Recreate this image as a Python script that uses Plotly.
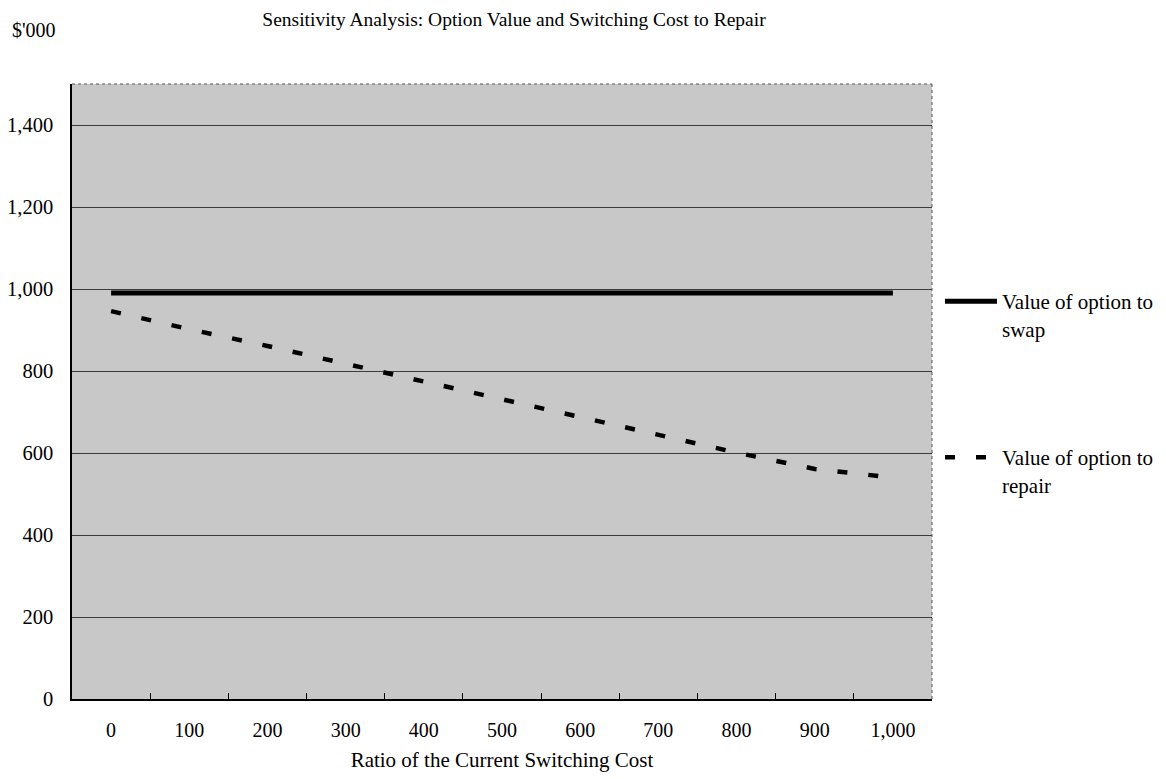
import plotly.graph_objects as go

# ---- data ----
ratio = [0, 100, 200, 300, 400, 500, 600, 700, 800, 900, 1000]
ratio_labels = [f"{r:,}" for r in ratio]
swap_value = [990, 990, 990, 990, 990, 990, 990, 990, 990, 990, 990]
repair_value = [946, 902, 861, 818, 774, 732, 688, 644, 601, 561, 540]
y_ticks = [0, 200, 400, 600, 800, 1000, 1200, 1400]

FONT = "Liberation Serif, Times New Roman, serif"

fig = go.Figure()
fig.add_trace(go.Scatter(
    x=ratio_labels, y=swap_value, mode="lines",
    name="Value of option to<br>swap",
    line=dict(color="black", width=5),
    legend="legend",
))
fig.add_trace(go.Scatter(
    x=ratio_labels, y=repair_value, mode="lines",
    name="Value of option to<br>repair",
    line=dict(color="black", width=4.5, dash="10px,21px"),
    legend="legend2",
))

W, H = 1166, 779
L, R, T, B = 72, 932, 84, 699

legend_common = dict(
    font=dict(family=FONT, size=21, color="black"),
    bgcolor="rgba(0,0,0,0)", borderwidth=0,
    xanchor="left", yanchor="top",
    itemwidth=52, valign="top",
)

fig.update_layout(
    width=W, height=H,
    margin=dict(l=L, r=W - R, t=T, b=H - B, autoexpand=False),
    paper_bgcolor="white",
    plot_bgcolor="#c8c8c8",
    font=dict(family=FONT, size=20, color="black"),
    title=dict(
        text="Sensitivity Analysis: Option Value and Switching Cost to Repair",
        font=dict(family=FONT, size=19.5, color="black"),
        xref="container", x=514 / W, xanchor="center",
        yref="container", y=1 - 19 / H, yanchor="middle",
    ),
    xaxis=dict(
        type="category",
        range=[-0.5, len(ratio_labels) - 0.5],
        tickmode="array", tickvals=ratio_labels, ticktext=ratio_labels,
        tickson="boundaries",
        ticks="inside", ticklen=6, tickwidth=1, tickcolor="black",
        showgrid=False,
        showline=True, linecolor="black", linewidth=1.5,
        tickfont=dict(family=FONT, size=20, color="black"),
        ticklabelstandoff=12,
        title=dict(text="Ratio of the Current Switching Cost",
                   font=dict(family=FONT, size=21, color="black"),
                   standoff=13),
        zeroline=False,
        automargin=False,
    ),
    yaxis=dict(
        range=[0, 1500],
        tickmode="array", tickvals=y_ticks,
        ticktext=[f"{v:,}" for v in y_ticks],
        ticks="",
        showgrid=True, gridcolor="#3c3c3c", gridwidth=1,
        showline=True, linecolor="black", linewidth=1.5,
        tickfont=dict(family=FONT, size=20.5, color="black"),
        ticklabelstandoff=13,
        zeroline=False,
        automargin=False,
    ),
    legend=dict(x=(940 - L) / (R - L), y=(B - 281) / (B - T), **legend_common),
    legend2=dict(x=(940 - L) / (R - L), y=(B - 437) / (B - T), **legend_common),
    showlegend=True,
)

# dotted border on top and right of plot area
fig.add_shape(type="line", xref="paper", yref="paper", x0=0, x1=1, y0=1, y1=1,
              line=dict(color="#555555", width=1, dash="dot"))
fig.add_shape(type="line", xref="paper", yref="paper", x0=1, x1=1, y0=0, y1=1,
              line=dict(color="#555555", width=1, dash="dot"))

fig.add_annotation(
    text="$'000", xref="paper", yref="paper",
    x=(10 - L) / (R - L), xanchor="left",
    y=(B - 30) / (B - T), yanchor="middle",
    showarrow=False, font=dict(family=FONT, size=20, color="black"),
)

fig.write_html("out.html")
